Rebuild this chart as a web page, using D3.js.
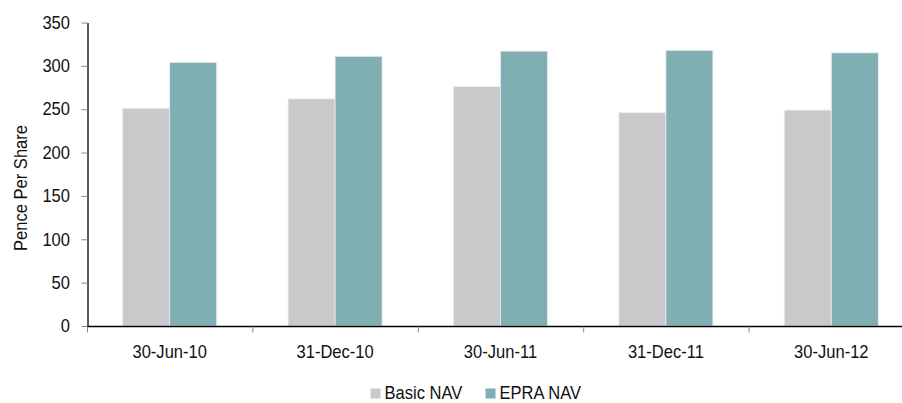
<!DOCTYPE html>
<html>
<head>
<meta charset="utf-8">
<script src="https://cdn.jsdelivr.net/npm/d3@7"></script>
<style>
  html, body { margin: 0; padding: 0; background: #fff; }
  svg text { font-family: "Liberation Sans Narrow", "Liberation Sans", Arial, sans-serif; fill: #111; }
</style>
</head>
<body>
<svg id="chart" width="902" height="403"></svg>
<script>
// Reporting dates and NAV per share (pence)
const categories = ["30-Jun-10", "31-Dec-10", "30-Jun-11", "31-Dec-11", "30-Jun-12"];
const seriesNames = ["Basic NAV", "EPRA NAV"];
const basicNav = [251, 262, 276, 246, 249];
const epraNav = [304, 311, 317, 318, 315];
const yTicks = [0, 50, 100, 150, 200, 250, 300, 350];
const colors = ["#c9c9cb", "#7fafb2"];

const svg = d3.select("#chart");
const squeeze = 0.92; // horizontal condensing of all labels

const x = d3.scaleBand().domain(categories).range([87, 914]).paddingInner(0).paddingOuter(0);
const barW = 47;
const side = (x.bandwidth() - 2 * barW) / 2;
const inner = d3.scaleBand().domain(seriesNames).range([side, side + 2 * barW]).padding(0);
const y = d3.scaleLinear().domain([0, 350]).range([326, 22.5]);

const rows = categories.map((c, i) => ({ cat: c, values: [basicNav[i], epraNav[i]] }));

// Bars
const groups = svg.append("g").selectAll("g").data(rows).join("g")
  .attr("transform", d => `translate(${x(d.cat)},0)`);
groups.selectAll("rect")
  .data(d => d.values.map((v, j) => ({ key: seriesNames[j], v, j })))
  .join("rect")
  .attr("x", d => inner(d.key))
  .attr("width", inner.bandwidth())
  .attr("y", d => y(d.v))
  .attr("height", d => y(0) - y(d.v))
  .attr("fill", d => colors[d.j])
  .attr("stroke", "#ececec")
  .attr("stroke-width", 0.8);

// Condensed text placed at (px, py)
function label(sel, px, py, anchor) {
  return sel.append("text")
    .attr("transform", `translate(${px},${py}) scale(${squeeze},1)`)
    .attr("text-anchor", anchor)
    .attr("font-size", 18);
}

// Y axis
const yAxis = svg.append("g").attr("transform", "translate(87.5,0)")
  .call(d3.axisLeft(y).tickValues(yTicks).tickSize(6).tickPadding(13).tickSizeOuter(0));
yAxis.select(".domain").attr("stroke", "#000").attr("stroke-width", 1.3);
yAxis.selectAll(".tick line").attr("stroke", "#888");
yAxis.selectAll(".tick text")
  .attr("font-size", 18).attr("font-family", null).attr("fill", "#111")
  .attr("transform", `scale(${squeeze},1)`);

// X axis
const xAxis = svg.append("g").attr("transform", "translate(0,326.5)");
xAxis.append("line").attr("x1", 87).attr("x2", 902).attr("y1", 0).attr("y2", 0)
  .attr("stroke", "#000").attr("stroke-width", 1.3);
xAxis.selectAll("line.tk").data(categories.map(c => x(c))).join("line").attr("class", "tk")
  .attr("x1", d => d + 0.5).attr("x2", d => d + 0.5).attr("y1", 0).attr("y2", 6)
  .attr("stroke", "#888");
categories.forEach(c => {
  label(xAxis, x(c) + x.bandwidth() / 2, 31.5, "middle").text(c);
});

// Y axis title
svg.append("text")
  .attr("transform", `translate(27,188) rotate(-90) scale(${squeeze},1)`)
  .attr("text-anchor", "middle")
  .attr("font-size", 18)
  .text("Pence Per Share");

// Legend
const legendItems = [
  { name: seriesNames[0], color: colors[0], x: 370.5 },
  { name: seriesNames[1], color: colors[1], x: 485.5 }
];
const lg = svg.append("g");
legendItems.forEach(d => {
  lg.append("rect").attr("x", d.x).attr("y", 388.5).attr("width", 10).attr("height", 10).attr("fill", d.color);
  label(lg, d.x + 14, 399, "start").text(d.name);
});
</script>
</body>
</html>
